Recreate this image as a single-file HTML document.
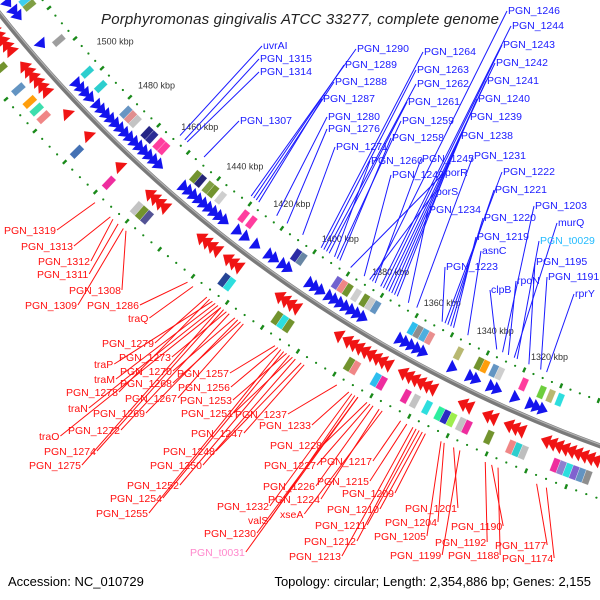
<!DOCTYPE html>
<html><head><meta charset="utf-8">
<style>
html,body{margin:0;padding:0;background:#fff;}
svg{display:block;font-family:"Liberation Sans",sans-serif;}
</style></head>
<body>
<svg id="map" width="600" height="600" viewBox="0 0 600 600" xmlns="http://www.w3.org/2000/svg">
<rect width="600" height="600" fill="#fff"/>
<g id="rings"></g>
<g id="boxes"></g>
<g id="arrows"></g>
<g id="ticks"></g>
<g id="labels"></g>
<text x="300" y="24" text-anchor="middle" font-style="italic" font-size="15" fill="#222" textLength="398">Porphyromonas gingivalis ATCC 33277, complete genome</text>
<text x="8" y="586" font-size="13" fill="#000">Accession: NC_010729</text>
<text x="591" y="586" text-anchor="end" font-size="13" fill="#000">Topology: circular; Length: 2,354,886 bp; Genes: 2,155</text>
</svg>
<script>
// ---- data ----
const tickKbp = [1500,1480,1460,1440,1420,1400,1380,1360,1340,1320];
const blueArrowKbp = [1523,1520,1518,1507,1491,1489,1487,1485,1482,1480,1478,1476,1474,1472,1470,1468,1466,1464,1462,1460,1458,1456,1446,1444,1442,1440,1438,1436,1434,1432,1430,1425,1422,1418,1413,1411,1408,1406,1398,1396,1394,1391,1389,1387,1385,1383,1381,1379,1366,1364,1362,1360,1358,1348,1342,1340,1335,1333,1327,1322,1320,1318];
const redArrowKbp = [1524,1522,1520,1518,1516,1514,1512,1506,1504,1502,1500,1498,1496,1487,1478,1465,1453,1451,1449,1447,1433,1431,1429,1427,1423,1421,1419,1404,1402,1400,1398,1383,1380,1378,1376,1374,1372,1370,1368,1366,1361,1359,1357,1355,1353,1351,1341,1339,1333,1331,1326,1324,1322,1314,1312,1310,1308,1306,1304,1302,1300,1298];
const innerBoxKbp = [1521,1519,1505,1492,1486,1475,1473,1471,1466,1464,1461,1459,1446,1444,1441,1439,1436,1427,1424,1407,1405,1392,1390,1388,1385,1382,1380,1378,1365,1363,1361,1359,1349,1342,1340,1337,1335,1327,1321,1318,1315];
const innerBoxColor = ["#33ccee","#7a9a3a","#999","#22cccc","#22cccc","#6090c0","#e08888","#c0c0c0","#1a1a80","#202090","#ff3399","#ff3399","#6b8e23","#1a1a70","#7a9a3a","#6b8e23","#ccc","#ff3399","#ff3399","#2020a0","#6080a0","#6a5acd","#f08080","#6b8e23","#ccc","#6b8e23","#c8c8c8","#5b8fbf","#22bbee","#888","#44aadd","#e88888","#b5b56a","#6b8e23","#ff9900","#5b8fbf","#ccc","#ff3399","#66cc33","#b5b56a","#22dddd"];
const outerBoxKbp = [1510,1502,1497,1494,1491,1477,1464,1453,1451,1449,1420,1418,1401,1399,1397,1376,1374,1367,1365,1357,1354,1350,1346,1344,1342,1339,1337,1330,1323,1321,1319,1309,1307,1305,1303,1301,1299];
const outerBoxColor = ["#6b8e23","#5b8fbf","#ff9900","#33ddaa","#f08080","#3a6ab0","#ee2299","#c0c0c0","#6b8e23","#4a4a90","#1a3a90","#22dddd","#6b8e23","#22dddd","#6b8e23","#6b8e23","#f08080","#22bbee","#ee2299","#ee2299","#c0c0c0","#22dddd","#22ee99","#2020c0","#99ee44","#c0c0c0","#ee2299","#6b8e23","#f08080","#22cccc","#bbb","#ee2299","#8a7acd","#22dddd","#7a5acd","#5b8fbf","#888"];
const blueLabels = ["uvrAI","PGN_1315","PGN_1314","PGN_1307","PGN_1290","PGN_1289","PGN_1288","PGN_1287","PGN_1280","PGN_1276","PGN_1271","PGN_1264","PGN_1263","PGN_1262","PGN_1261","PGN_1259","PGN_1258","PGN_1260","PGN_1245","PGN_1249","porR","porS","PGN_1234","PGN_1246","PGN_1244","PGN_1243","PGN_1242","PGN_1241","PGN_1240","PGN_1239","PGN_1238","PGN_1231","PGN_1222","PGN_1221","PGN_1203","murQ","PGN_t0029","PGN_1195","PGN_1191","rprY","PGN_1220","PGN_1219","asnC","PGN_1223","rpoN","clpB"];
const blueLabelX = [263,260,260,240,357,345,335,323,328,328,336,424,417,417,408,402,392,371,422,392,445,436,429,508,512,503,496,487,478,470,461,474,503,495,535,558,540,536,548,575,484,477,482,446,517,491];
const blueLabelY = [49,62,75,124,52,68,85,102,120,132,150,55,73,87,105,124,141,164,162,178,176,195,213,14,29,48,66,84,102,120,139,159,175,193,209,226,244,265,280,297,221,240,254,270,284,293];
const blueLabelKbp = [1459,1457,1456,1449,1430,1429,1428,1427,1420,1416,1410,1403,1402,1401,1400,1397,1396,1398,1383,1387,1392,1385,1371,1384,1381,1380,1379,1378,1377,1376,1375,1368,1358,1357,1338,1334,1333,1329,1325,1323,1356,1355,1350,1359,1336,1340];
const redLabels = ["PGN_1319","PGN_1313","PGN_1312","PGN_1311","PGN_1309","PGN_1308","PGN_1286","traQ","PGN_1279","PGN_1273","PGN_1270","traP","traM","PGN_1268","PGN_1278","PGN_1267","traN","PGN_1269","PGN_1272","traO","PGN_1274","PGN_1275","PGN_1257","PGN_1256","PGN_1253","PGN_1251","PGN_1237","PGN_1247","PGN_1233","PGN_1248","PGN_1250","PGN_1228","PGN_1227","PGN_1217","PGN_1215","PGN_1226","PGN_1224","xseA","PGN_1209","PGN_1210","PGN_1252","PGN_1254","PGN_1255","PGN_1232","valS","PGN_1230","PGN_t0031","PGN_1211","PGN_1212","PGN_1213","PGN_1201","PGN_1204","PGN_1205","PGN_1199","PGN_1190","PGN_1192","PGN_1188","PGN_1177","PGN_1174"];
const redLabelX = [4,21,38,37,25,69,87,128,102,119,120,94,94,120,66,125,68,93,68,39,44,29,177,178,180,181,235,191,259,163,150,270,264,320,317,263,268,280,342,327,127,110,96,217,248,204,190,315,304,289,405,385,374,390,451,435,448,495,502];
const redLabelY = [234,250,265,278,309,294,309,322,347,361,375,368,383,387,396,402,412,417,434,440,455,469,377,391,404,417,418,437,429,455,469,449,469,465,485,490,503,518,497,513,489,502,517,510,524,537,556,529,545,560,512,526,540,559,530,546,559,549,562];
const redLabelKbp = [1464,1458,1457,1455,1453,1452,1429,1427,1422,1415,1412,1420,1419,1410,1421,1409,1418,1411,1414,1417,1416,1417,1398,1397,1394,1392,1377,1388,1373,1389,1391,1367,1366,1356,1354,1365,1363,1362,1348,1349,1393,1395,1396,1372,1371,1370,1370,1350,1351,1352,1339,1342,1343,1337,1327,1329,1325,1313,1310];

// ---- geometry ----
const NS = "http://www.w3.org/2000/svg";
const CX = 1062, CY = -829, R = 1356;
function ang(k){ return (112.8 + (k - 1320) * 0.1413) * Math.PI / 180; }
function pt(r, k){ const a = ang(k); return [CX + r * Math.cos(a), CY + r * Math.sin(a)]; }
function mk(tag, attrs, parent){ const e = document.createElementNS(NS, tag); for (const k in attrs) e.setAttribute(k, attrs[k]); parent.appendChild(e); return e; }
const P = a => a[0].toFixed(1) + "," + a[1].toFixed(1);

const rings = document.getElementById("rings");
const back = mk("circle", {cx: CX, cy: CY, r: R, fill: "none", stroke: "#7a7a7a", "stroke-width": 5}, rings);


const backHi = mk("circle", {cx: CX, cy: CY, r: R - 1.3, fill: "none", stroke: "#b4b4b4", "stroke-width": 1.2}, rings);



// green dotted rings (structural decoration)
[R - 42, R + 50].forEach(r => {
  let i = 0;
  for (let k = 1280; k < 1560; k += 3.1, i++) {
    if (i % 4 === 0) {
      const a = pt(r - 2.5, k), b = pt(r + 2.5, k);
      const d = mk("line", {x1: a[0], y1: a[1], x2: b[0], y2: b[1], stroke: "#1a8a1a", "stroke-width": 2.4}, rings);
      
      
    } else {
      const c = pt(r, k);
      const d = mk("circle", {cx: c[0], cy: c[1], r: 1.1, fill: "#1a8a1a"}, rings);
      
      
    }
  }
});

// feature boxes
const boxes = document.getElementById("boxes");
function box(k, w, r1, r2, col, name){
  const pts = [pt(r1, k), pt(r2, k), pt(r2, k + w), pt(r1, k + w)].map(P).join(" ");
  const e = mk("polygon", {points: pts, fill: col, stroke: "#fff", "stroke-width": 0.3, opacity: 0.95}, boxes);
  
  
}
innerBoxKbp.forEach((k, i) => box(k, 2, R - 35, R - 22, innerBoxColor[i], 'cog-box-forward'));
outerBoxKbp.forEach((k, i) => box(k, 2, R + 27, R + 41, outerBoxColor[i], 'cog-box-reverse'));

// arrows
const arrows = document.getElementById("arrows");
function arrow(head, tail, r1, r2, col, name){
  const pts = [pt(r1, tail), pt(r2, tail), pt((r1 + r2) / 2, head)].map(P).join(" ");
  const e = mk("polygon", {points: pts, fill: col}, arrows);
  
  
}
blueArrowKbp.forEach(k => arrow(k, k + 2.8, R - 20, R - 6, "#1414ee", 'forward-cds-arrow'));
redArrowKbp.forEach(k => arrow(k + 2.8, k, R + 7, R + 22, "#f01414", 'reverse-cds-arrow'));

// tick labels
const ticks = document.getElementById("ticks");
tickKbp.forEach(k => {
  const p = pt(R - 54, k + 9 - (k - 1320) * 0.065);
  const t = mk("text", {x: p[0], y: p[1], "font-size": 9, fill: "#333", stroke: "#fff", "stroke-width": 2, "paint-order": "stroke"}, ticks);
  t.textContent = k + " kbp";
  
  
});

// labels
const labels = document.getElementById("labels");
blueLabels.forEach((s, i) => {
  const e = pt(R - 49, blueLabelKbp[i]);
  const l = mk("line", {x1: blueLabelX[i] - 1, y1: blueLabelY[i] - 3, x2: e[0], y2: e[1], stroke: "#1a1aff", "stroke-width": 1}, labels);
  
  
  const t = mk("text", {x: blueLabelX[i], y: blueLabelY[i], "font-size": 10.5, fill: s === "PGN_t0029" ? "#22bbff" : "#1a1aff"}, labels);
  t.textContent = s;
  
  
});
redLabels.forEach((s, i) => {
  const t = mk("text", {x: redLabelX[i], y: redLabelY[i], "font-size": 10.5, fill: s === "PGN_t0031" ? "#ff88cc" : "#ff1010"}, labels);
  t.textContent = s;
  
  
  const w = t.getComputedTextLength ? t.getComputedTextLength() : 50;
  const e = pt(R + 58, redLabelKbp[i]);
  const l = mk("line", {x1: redLabelX[i] + w + 1, y1: redLabelY[i] - 4, x2: e[0], y2: e[1], stroke: "#ff1010", "stroke-width": 1}, labels);
  
  
});
</script>
</body></html>
